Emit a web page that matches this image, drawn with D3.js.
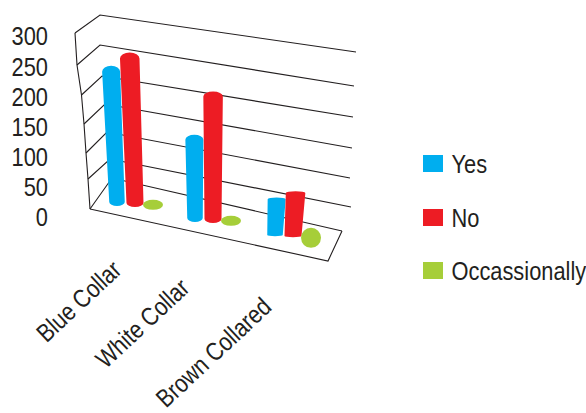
<!DOCTYPE html>
<html><head><meta charset="utf-8">
<style>html,body{margin:0;padding:0;background:#fff}svg{display:block}
text{font-family:"Liberation Sans",Arial,sans-serif;fill:#231f20}</style>
<script src="https://cdn.jsdelivr.net/npm/d3@7/dist/d3.min.js"></script></head>
<body><svg id="chart" width="586" height="413"></svg>
<script>
const categories = ["Blue Collar", "White Collar", "Brown Collared"];
const seriesNames = ["Yes", "No", "Occassionally"];
const yes = [230, 138, 63];
const no = [255, 216, 76];
const occasionally = [2, 2, 2];
const valueTicks = [0, 50, 100, 150, 200, 250, 300];

const colors = d3.scaleOrdinal(seriesNames, ["#00aeef", "#ed1c24", "#a6ce39"]);
const svg = d3.select("#chart");

// Wall and floor edges of the box, each one a scale over the value axis.
const edge = r => d3.scaleLinear(valueTicks, r);
const frontX = edge([90, 88, 86, 84, 81.5, 77, 75]);
const frontY = edge([209, 179, 153, 124, 95, 65, 33]);
const backX = edge([112, 110, 107, 105, 102, 100, 100]);
const backY = edge([178, 159, 132, 104, 76, 45, 15]);
const rightX = edge([342, 351, 350, 352, 353, 354, 356]);
const rightY = edge([231, 207, 178, 148, 117, 86, 52]);
const floorFront = {x: 328, y: 261};

const stroke = "#231f20";
const wall = svg.append("g").attr("fill", "none").attr("stroke", stroke).attr("stroke-width", 1.1);
valueTicks.forEach(v => {
  wall.append("path").attr("d", d3.line()([
    [frontX(v), frontY(v)], [backX(v), backY(v)], [rightX(v), rightY(v)]
  ]));
});
wall.append("path").attr("d", d3.line()(valueTicks.map(v => [frontX(v), frontY(v)])));
wall.append("path").attr("d", d3.line()([
  [frontX(0), frontY(0)], [floorFront.x, floorFront.y], [rightX(0), rightY(0)]
]));

// All lettering is squeezed horizontally by the same factor.
const condensed = 0.84;
function label(sel, x, y, size, rotate) {
  return sel.attr("font-size", size)
    .attr("transform", `translate(${x},${y})${rotate ? ` rotate(${rotate})` : ""} scale(${condensed},1)`);
}
const tickY = edge([226, 196, 166, 136, 106, 76, 45]);
valueTicks.forEach(v => {
  label(svg.append("text").attr("text-anchor", "end").text(v), 48, tickY(v), 26);
});

// Placement of each cylinder on the floor: series step inside a category.
const catShift = d3.scaleLinear([0, 1, 2], [0, 78, 158]);
const catDrop = d3.scaleLinear([0, 1, 2], [0, 16, 33]);
const baseX = d3.scaleOrdinal(seriesNames, [117, 135, 153]);
const baseY = d3.scaleOrdinal(seriesNames, [202, 203, 205]);
const height = d3.scaleLinear([0, 300], [0, 170]);
const lean = d3.scaleLinear([117, 212, 293], [-0.045, 0, 0.06]);
const capTop = d3.scaleOrdinal([0, 1, 2], [6, 5, 1.8]);
const capBottom = d3.scaleOrdinal([0, 1, 2], [4, 4, 1.2]);
const discRy = d3.scaleOrdinal([0, 1, 2], [5, 5, 10]);

function cylinderPath(x0, y0, x1, y1, w0, w1, r0, r1) {
  const a = w1 / 2, b = w0 / 2;
  return `M${x1 - a},${y1}A${a},${r1} 0 0 1 ${x1 + a},${y1}` +
         `L${x0 + b},${y0}A${b},${r0} 0 0 1 ${x0 - b},${y0}Z`;
}

categories.forEach((c, i) => {
  [yes, no].forEach((series, s) => {
    const name = seriesNames[s];
    const x0 = baseX(name) + catShift(i), y0 = baseY(name) + catDrop(i);
    const h = height(series[i]);
    const x1 = x0 + lean(x0) * h;
    svg.append("path")
      .attr("d", cylinderPath(x0, y0, x1, y0 - h, 15.5 + s * 1.5, 18 + s * 1.5, capBottom(i), capTop(i)))
      .attr("fill", colors(name));
  });
  const disc = seriesNames[2];
  svg.append("ellipse")
    .attr("cx", baseX(disc) + catShift(i))
    .attr("cy", baseY(disc) + catDrop(i) - height(occasionally[i]) + 1)
    .attr("rx", 10).attr("ry", discRy(i))
    .attr("fill", colors(disc));
});

// Slanted category labels ending under each group.
const catEndX = d3.scaleOrdinal(categories, [123, 191, 273]);
const catEndY = d3.scaleOrdinal(categories, [272, 290, 309]);
categories.forEach(c => {
  label(svg.append("text").attr("text-anchor", "end").text(c), catEndX(c), catEndY(c), 25.5, -43);
});

// Legend
const legendTop = d3.scaleOrdinal(seriesNames, [155, 209, 262]);
seriesNames.forEach(n => {
  svg.append("rect").attr("x", 423).attr("y", legendTop(n)).attr("width", 20).attr("height", 17)
    .attr("fill", colors(n));
  label(svg.append("text").text(n), 451.5, legendTop(n) + 18, 26);
});
</script></body></html>
